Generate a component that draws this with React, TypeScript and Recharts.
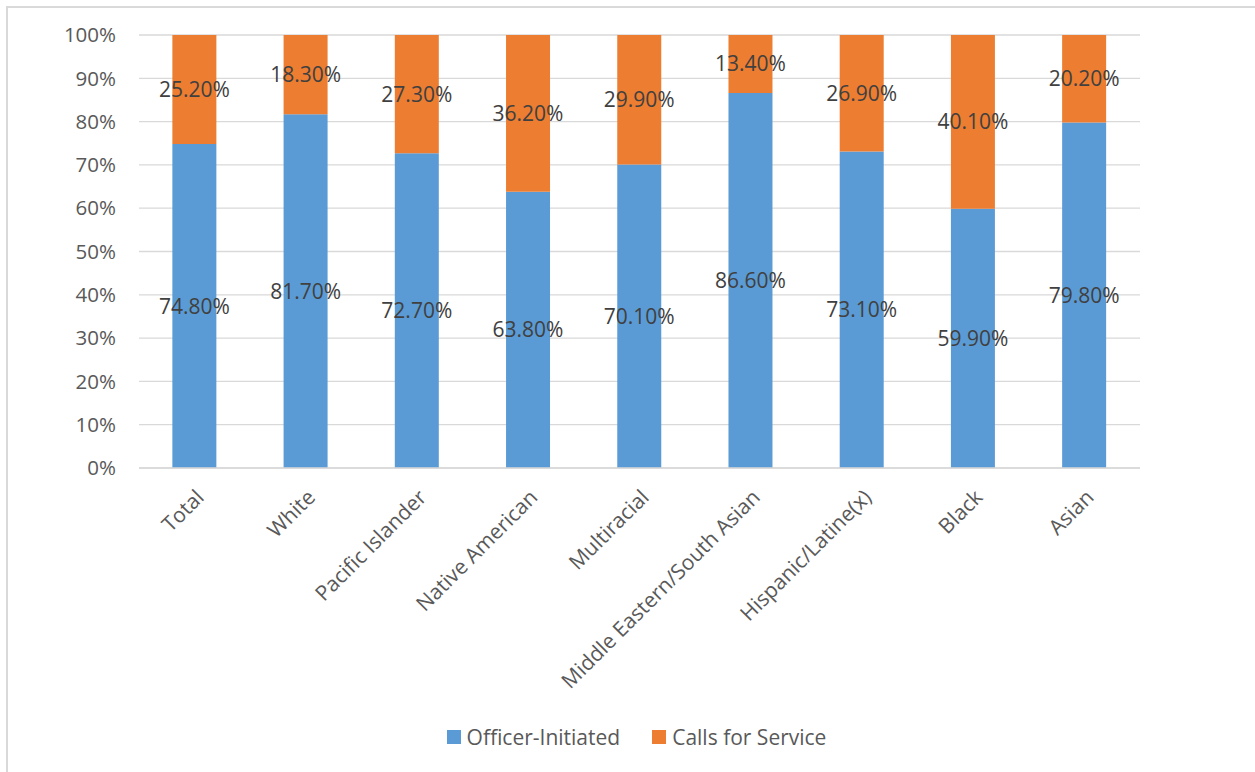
import React from "react";
import { BarChart, Bar, XAxis, YAxis, CartesianGrid, LabelList } from "recharts";

// categories, left to right
const groups = [
	"Total",
	"White",
	"Pacific Islander",
	"Native American",
	"Multiracial",
	"Middle Eastern/South Asian",
	"Hispanic/Latine(x)",
	"Black",
	"Asian",
];

// share of stops, in percent
const officerInitiated = [74.8, 81.7, 72.7, 63.8, 70.1, 86.6, 73.1, 59.9, 79.8];
const callsForService = [25.2, 18.3, 27.3, 36.2, 29.9, 13.4, 26.9, 40.1, 20.2];

const yTicks = [0, 10, 20, 30, 40, 50, 60, 70, 80, 90, 100];

const BLUE = "#5B9BD5";
const ORANGE = "#ED7D31";
const FONT = "'Open Sans', sans-serif";

const rows = groups.map((name, i) => ({
	name,
	officer: officerInitiated[i],
	calls: callsForService[i],
}));

const pct = (v: number | string) => `${Number(v).toFixed(2)}%`;

function CategoryTick(props: any) {
	const { x, y, payload } = props;
	return (
		<g transform={`translate(${x + 5},${y + 17})`}>
			<text
				transform="rotate(-45)"
				textAnchor="end"
				dominantBaseline="central"
				fontFamily={FONT}
				fontSize={21}
				fill="#595959"
			>
				{payload.value}
			</text>
		</g>
	);
}

export default function App() {
	return (
		<div
			style={{
				position: "absolute",
				left: 0,
				top: 0,
				width: 1255,
				height: 772,
				overflow: "hidden",
				background: "#fff",
			}}
		>
			<div style={{ position: "absolute", left: 0, top: 0 }}>
				<BarChart
					width={1255}
					height={772}
					data={rows}
					margin={{ top: 35, right: 115, left: 0, bottom: 104 }}
					barCategoryGap="30%"
				>
					<CartesianGrid vertical={false} stroke="#d9d9d9" strokeWidth={1.3} />
					<XAxis
						dataKey="name"
						interval={0}
						height={200}
						tickLine={false}
						axisLine={{ stroke: "#d9d9d9", strokeWidth: 1.3 }}
						tick={<CategoryTick />}
					/>
					<YAxis
						width={139}
						domain={[0, 100]}
						ticks={yTicks}
						tickFormatter={(v) => `${v}%`}
						axisLine={false}
						tickLine={false}
						tickMargin={17}
						tick={{ fontFamily: FONT, fontSize: 20.5, fill: "#595959" }}
					/>
					<Bar dataKey="officer" stackId="s" fill={BLUE} isAnimationActive={false}>
						<LabelList
							dataKey="officer"
							position="center"
							formatter={pct as any}
							style={{ fontFamily: FONT, fontSize: 21, fill: "#404040" }}
						/>
					</Bar>
					<Bar dataKey="calls" stackId="s" fill={ORANGE} isAnimationActive={false}>
						<LabelList
							dataKey="calls"
							position="center"
							formatter={pct as any}
							style={{ fontFamily: FONT, fontSize: 21, fill: "#404040" }}
						/>
					</Bar>
				</BarChart>
			</div>
			{/* chart frame, runs off the right and bottom edges */}
			<div
				style={{
					position: "absolute",
					left: 6,
					top: 6,
					width: 1280,
					height: 800,
					boxSizing: "border-box",
					borderTop: "2px solid #d9d9d9",
					borderLeft: "2px solid #d9d9d9",
					zIndex: 5,
					pointerEvents: "none",
				}}
			/>
			<div
				style={{
					position: "absolute",
					top: 723,
					left: 9,
					width: 1255,
					display: "flex",
					justifyContent: "center",
					gap: 32,
					fontFamily: FONT,
					fontSize: 21,
					color: "#595959",
				}}
			>
				{[
					{ label: "Officer-Initiated", color: BLUE },
					{ label: "Calls for Service", color: ORANGE },
				].map((item) => (
					<div key={item.label} style={{ display: "flex", alignItems: "center" }}>
						<span
							style={{
								display: "inline-block",
								width: 14,
								height: 14,
								background: item.color,
								marginRight: 6,
							}}
						/>
						{item.label}
					</div>
				))}
			</div>
		</div>
	);
}
